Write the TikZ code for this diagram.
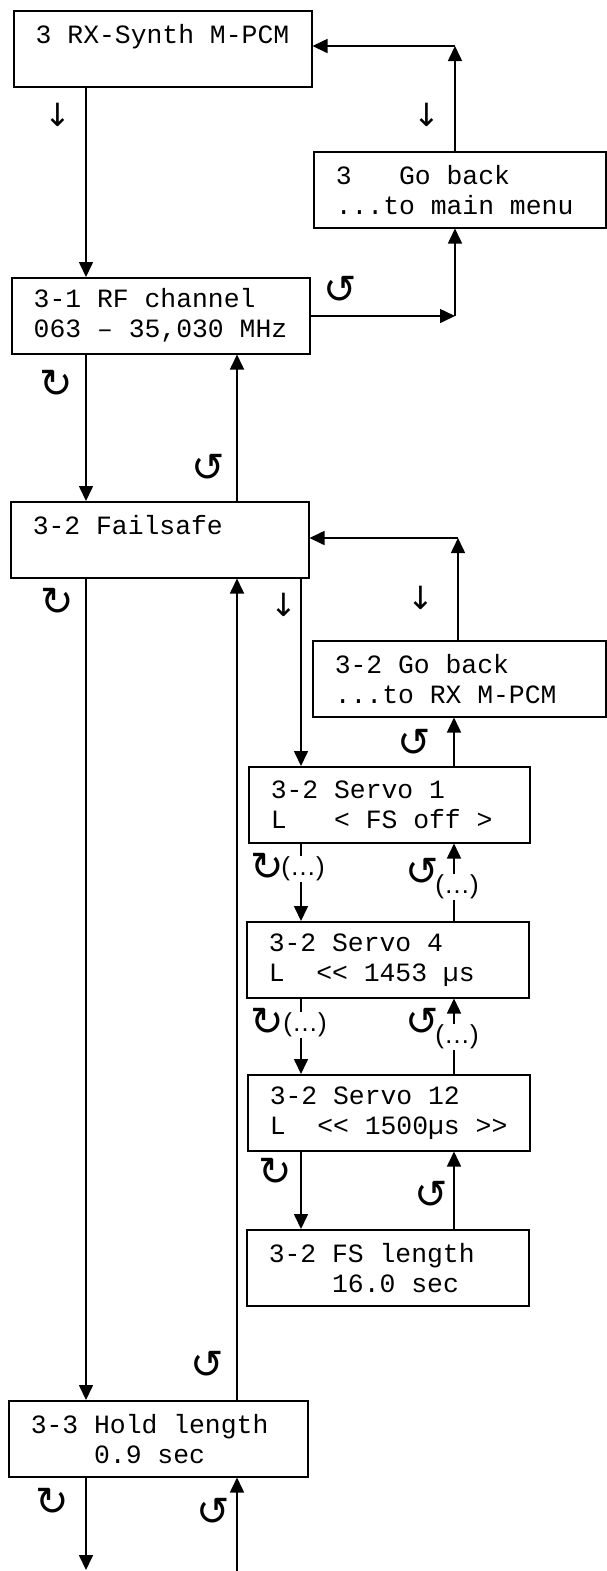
\documentclass[tikz,border=0pt]{standalone}
\usepackage{fontspec}
\setmonofont{Liberation Mono}
\newfontfamily\symbfont{DejaVu Sans}
\newfontfamily\labelfont{Liberation Sans}
\usepackage{tikz}
\usetikzlibrary{arrows.meta}

\newcommand{\lcd}{\ttfamily\fontsize{13.2pt}{15pt}\selectfont}

\tikzset{
  screen/.style={draw, line width=0.75pt, anchor=north west, minimum height=38pt,
    inner xsep=11pt, inner ysep=0pt, align=flush left, font=\lcd, text width=#1},
  link/.style={line width=0.8pt, -{Triangle[length=7.5pt,width=7pt]}},
  turn/.style={font=\symbfont\fontsize{20pt}{20pt}\selectfont, inner sep=0pt},
  press/.style={font=\symbfont\fontsize{16pt}{16pt}\selectfont, inner sep=0pt},
  more/.style={font=\labelfont\fontsize{13pt}{13pt}\selectfont, fill=white, inner sep=0.6pt}
}

\begin{document}
\begin{tikzpicture}[x=0.5pt, y=-0.5pt]
      \useasboundingbox (0,0) rectangle (606,1571);

      % Screens
      \node[screen=127pt] (rx) at (13,10) {3~RX-Synth~M-PCM\\~};
      \node[screen=124pt] (gomain) at (313,151) {3~~~Go back\\...to main menu};
      \node[screen=127pt] (rf) at (11,277) {3-1 RF channel\\063~–~35,030~MHz};
      \node[screen=127pt] (fsafe) at (10,501) {3-2 Failsafe\\~};
      \node[screen=124.5pt] (goback) at (312,640) {3-2 Go back\\...to RX M-PCM};
      \node[screen=118.5pt] (servoa) at (248,766) {3-2 Servo 1\\L~~~<~FS~off~>};
      \node[screen=119pt] (servod) at (246,921) {3-2 Servo 4\\L~~<<~1453~µs};
      \node[screen=119pt] (servol) at (247,1074) {3-2 Servo 12\\L~~<<~1500µs~>>};
      \node[screen=119pt] (fslen) at (246,1229) {3-2 FS length\\~~~~16.0 sec};
      \node[screen=127.5pt] (hold) at (8,1400) {3-3~Hold~length\\~~~~0.9 sec};

      % Columns and corners
      \coordinate (colA) at (86,0);
      \coordinate (colB) at (237,0);
      \coordinate (colC) at (301,0);
      \coordinate (colD) at (454,0);
      \coordinate (k1) at (455,46);
      \coordinate (k2) at (455,316);
      \coordinate (k3) at (458,538);
      \coordinate (out) at (86,1570);
      \coordinate (in) at (237,1571);

      % Main menu loop
      \draw[link] (rx.south -| colA) -- (rf.north -| colA);
      \draw[link] (gomain.north -| k1) -- (k1);
      \draw[link] (k1) -- (rx.east |- k1);
      \draw[link] (rf.east |- k2) -- (k2);
      \draw[link] (k2) -- (gomain.south -| k2);
      \node[press] (p1) at (58,115) {↓};
      \node[press] (p2) at (427,115) {↓};
      \node[turn] (t1) at (340,290) {↺};

      % RF channel <-> Failsafe
      \draw[link] (rf.south -| colA) -- (fsafe.north -| colA);
      \draw[link] (fsafe.north -| colB) -- (rf.south -| colB);
      \node[turn] (t2) at (56,384) {↻};
      \node[turn] (t3) at (208,468) {↺};

      % Failsafe submenu
      \draw[link] (goback.north -| k3) -- (k3);
      \draw[link] (k3) -- (fsafe.east |- k3);
      \draw[link] (fsafe.south -| colC) -- (servoa.north -| colC);
      \draw[link] (servoa.north -| colD) -- (goback.south -| colD);
      \node[press] (p3) at (284,605) {↓};
      \node[press] (p4) at (421,598) {↓};
      \node[turn] (t4) at (414,743) {↺};

      \draw[link] (servoa.south -| colC) -- (servod.north -| colC);
      \draw[link] (servod.north -| colD) -- (servoa.south -| colD);
      \node[turn] (t5) at (267,867) {↻};
      \node[more] (m1) at (303,869) {(…)};
      \node[turn] (t6) at (422,872) {↺};
      \node[more] (m2) at (457,887) {(…)};

      \draw[link] (servod.south -| colC) -- (servol.north -| colC);
      \draw[link] (servol.north -| colD) -- (servod.south -| colD);
      \node[turn] (t7) at (267,1022) {↻};
      \node[more] (m3) at (305,1025) {(…)};
      \node[turn] (t8) at (422,1022) {↺};
      \node[more] (m4) at (457,1037) {(…)};

      \draw[link] (servol.south -| colC) -- (fslen.north -| colC);
      \draw[link] (fslen.north -| colD) -- (servol.south -| colD);
      \node[turn] (t9) at (275,1172) {↻};
      \node[turn] (t10) at (431,1195) {↺};

      % Failsafe <-> Hold length
      \draw[link] (fsafe.south -| colA) -- (hold.north -| colA);
      \draw[link] (hold.north -| colB) -- (fsafe.south -| colB);
      \node[turn] (t11) at (57,602) {↻};
      \node[turn] (t12) at (207,1365) {↺};

      % Hold length onwards
      \draw[link] (hold.south -| colA) -- (out);
      \draw[link] (in) -- (hold.south -| colB);
      \node[turn] (t13) at (52,1502) {↻};
      \node[turn] (t14) at (213,1512) {↺};
    \end{tikzpicture}
\end{document}
